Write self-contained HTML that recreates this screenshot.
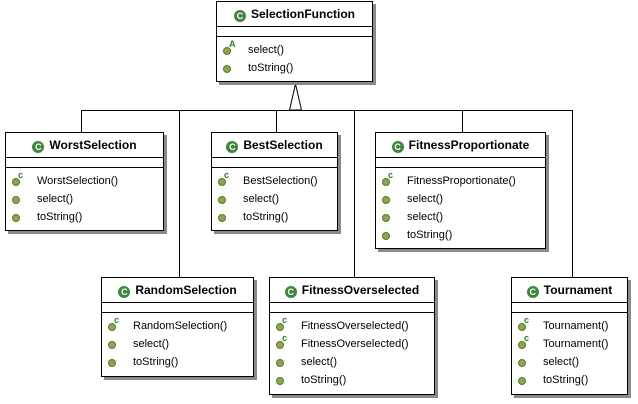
<!DOCTYPE html><html><head><style>
body{margin:0;width:638px;height:404px;background:#fff;position:relative;overflow:hidden;font-family:"Liberation Sans",sans-serif}
.b{position:absolute;background:#fff;border:1px solid #000;box-shadow:3px 3px 0 #8a8a8a;box-sizing:border-box}
.h{height:24px;line-height:24px;text-align:center;font-weight:bold;font-size:12px;border-bottom:1px solid #000;white-space:nowrap}
.e{height:9px;border-bottom:1px solid #000}
.m{padding:4px 0 4px 0}
.r{height:18px;line-height:18px;font-size:11px;padding-left:31px;position:relative;white-space:nowrap}
.r:before{content:"";position:absolute;left:6px;top:6px;width:6px;height:6px;border-radius:50%;background:#8aa84a;border:1px solid #5a7a2a}
.r.c:after,.r.a:after{content:"c";position:absolute;left:12px;top:-2px;font-size:9px;font-weight:bold;color:#1a8a1a;line-height:10px}
.r.a:after{content:"A"}
.ic{display:inline-block;width:12px;height:12px;border-radius:50%;background:#3b8a3b;color:#fff;font-size:9px;line-height:12px;text-align:center;vertical-align:-1px;margin-right:5px}
.l{position:absolute;background:#000}
</style></head><body>
<div class="l" style="left:81px;top:110px;width:491px;height:1px"></div>
<div class="l" style="left:81px;top:110px;width:1px;height:22px"></div>
<div class="l" style="left:179px;top:110px;width:1px;height:167px"></div>
<div class="l" style="left:276px;top:110px;width:1px;height:22px"></div>
<div class="l" style="left:354px;top:110px;width:1px;height:167px"></div>
<div class="l" style="left:462px;top:110px;width:1px;height:22px"></div>
<div class="l" style="left:572px;top:110px;width:1px;height:167px"></div>
<svg style="position:absolute;left:0;top:0" width="638" height="404"><polygon points="295.5,84 289.5,110 301.5,110" fill="#fff" stroke="#000" stroke-width="1"/></svg>

<div class="b" style="left:216px;top:1px;width:157px;height:81px"><div class="h"><span class="ic">C</span>SelectionFunction</div><div class="e"></div><div class="m"><div class="r a">select()</div><div class="r">toString()</div></div></div>

<div class="b" style="left:5px;top:132px;width:159px;height:99px"><div class="h"><span class="ic">C</span>WorstSelection</div><div class="e"></div><div class="m"><div class="r c">WorstSelection()</div><div class="r">select()</div><div class="r">toString()</div></div></div>

<div class="b" style="left:211px;top:132px;width:127px;height:99px"><div class="h"><span class="ic">C</span>BestSelection</div><div class="e"></div><div class="m"><div class="r c">BestSelection()</div><div class="r">select()</div><div class="r">toString()</div></div></div>

<div class="b" style="left:375px;top:132px;width:171px;height:117px"><div class="h"><span class="ic">C</span>FitnessProportionate</div><div class="e"></div><div class="m"><div class="r c">FitnessProportionate()</div><div class="r">select()</div><div class="r">select()</div><div class="r">toString()</div></div></div>

<div class="b" style="left:101px;top:277px;width:153px;height:100px"><div class="h"><span class="ic">C</span>RandomSelection</div><div class="e"></div><div class="m"><div class="r c">RandomSelection()</div><div class="r">select()</div><div class="r">toString()</div></div></div>

<div class="b" style="left:269px;top:277px;width:166px;height:118px"><div class="h"><span class="ic">C</span>FitnessOverselected</div><div class="e"></div><div class="m"><div class="r c">FitnessOverselected()</div><div class="r c">FitnessOverselected()</div><div class="r">select()</div><div class="r">toString()</div></div></div>

<div class="b" style="left:511px;top:277px;width:117px;height:118px"><div class="h"><span class="ic">C</span>Tournament</div><div class="e"></div><div class="m"><div class="r c">Tournament()</div><div class="r c">Tournament()</div><div class="r">select()</div><div class="r">toString()</div></div></div>
</body></html>
